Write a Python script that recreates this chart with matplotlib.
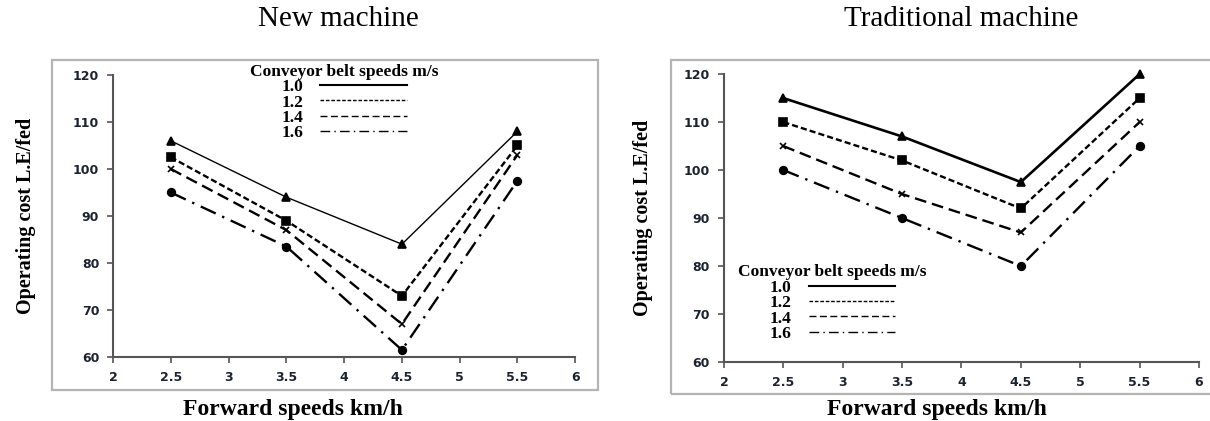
import matplotlib
matplotlib.use("Agg")
import matplotlib.pyplot as plt
from matplotlib.lines import Line2D
from matplotlib.patches import Rectangle

plt.rcParams['font.family'] = ['Liberation Serif', 'DejaVu Serif']

# forward speeds (km/h)
speeds = [2.5, 3.5, 4.5, 5.5]
belt_labels = ['1.0', '1.2', '1.4', '1.6']

# operating cost L.E/fed, one list per conveyor belt speed
new_10 = [106, 94, 84, 108]
new_12 = [102.5, 89, 73, 105]
new_14 = [100, 87, 67, 103]
new_16 = [95, 83.5, 61.5, 97.5]

trad_10 = [115, 107, 97.5, 120]
trad_12 = [110, 102, 92, 115]
trad_14 = [105, 95, 87, 110]
trad_16 = [100, 90, 80, 105]

x_ticks = [2, 2.5, 3, 3.5, 4, 4.5, 5, 5.5, 6]
x_ticklabels = ['2', '2.5', '3', '3.5', '4', '4.5', '5', '5.5', '6']
y_ticks = [60, 70, 80, 90, 100, 110, 120]

styles = [
    dict(linestyle='-', marker='^'),
    dict(linestyle=(0, (2.6, 1.3)), marker='s'),
    dict(linestyle=(0, (5, 2.5)), marker='x'),
    dict(linestyle=(0, (7, 3, 1, 3)), marker='o'),
]
marker_sizes = [5.5, 6, 5, 5.5]

fig = plt.figure(figsize=(12.1, 4.21), dpi=100)

# grey frames around each panel
for rect in [(0.043, 0.074, 0.451, 0.784), (0.5545, 0.064, 0.452, 0.793)]:
    fig.patches.append(Rectangle(rect[:2], rect[2], rect[3], transform=fig.transFigure,
                                 fill=False, edgecolor='#b4b4b4', linewidth=1.6))

ax1 = fig.add_axes([0.0934, 0.152, 0.382, 0.670])
ax2 = fig.add_axes([0.5983, 0.140, 0.3926, 0.684])

panels = [
    (ax1, [new_10, new_12, new_14, new_16], 1.0),
    (ax2, [trad_10, trad_12, trad_14, trad_16], 1.9),
]

for ax, series, solid_lw in panels:
    for i, vals in enumerate(series):
        lw = solid_lw if i == 0 else 1.7
        ax.plot(speeds, vals, color='black', linewidth=lw, clip_on=False,
                markersize=marker_sizes[i], markeredgewidth=1.2, **styles[i])
    ax.set_xlim(2, 6)
    ax.set_ylim(60, 120)
    ax.set_xticks(x_ticks)
    ax.set_xticklabels(x_ticklabels)
    ax.set_yticks(y_ticks)
    for s in ['top', 'right']:
        ax.spines[s].set_visible(False)
    for s in ['left', 'bottom']:
        ax.spines[s].set_color('#555555')
        ax.spines[s].set_linewidth(1.5)
    ax.tick_params(axis='both', length=4, width=1.2, color='#555555', pad=6,
                   labelsize=9, labelcolor='#1c2330')
    for lab in ax.get_xticklabels() + ax.get_yticklabels():
        lab.set_fontfamily('DejaVu Sans')
        lab.set_fontweight('bold')
    ax.set_ylabel('Operating cost L.E/fed', fontsize=14.5, fontweight='bold')
    ax.set_xlabel('Forward speeds km/h', fontsize=17, fontweight='bold')

ax1.yaxis.set_label_coords(-0.166, 0.5)
ax2.yaxis.set_label_coords(-0.15, 0.5)
ax1.xaxis.set_label_coords(0.39, -0.15)
ax2.xaxis.set_label_coords(0.448, -0.13)

fig.text(0.28, 0.955, 'New machine', fontsize=21, ha='center', va='center')
fig.text(0.794, 0.955, 'Traditional machine', fontsize=21, ha='center', va='center')

handles_thin = [Line2D([], [], color='black', linewidth=1.5 if i == 0 else 1.0,
                       linestyle=styles[i]['linestyle']) for i in range(4)]

leg_kw = dict(frameon=False, markerfirst=False, handlelength=5.0, handletextpad=1.0,
              labelspacing=-0.04, borderpad=0, borderaxespad=0,
              prop={'weight': 'bold', 'size': 12.5},
              title='Conveyor belt speeds m/s',
              title_fontproperties={'weight': 'bold', 'size': 12.5})
ax1.legend(handles_thin, belt_labels, loc='upper center', bbox_to_anchor=(0.5, 1.04), **leg_kw)
ax2.legend(handles_thin, belt_labels, loc='upper left', bbox_to_anchor=(0.03, 0.34), **leg_kw)

fig.savefig('out.png', dpi=100)
